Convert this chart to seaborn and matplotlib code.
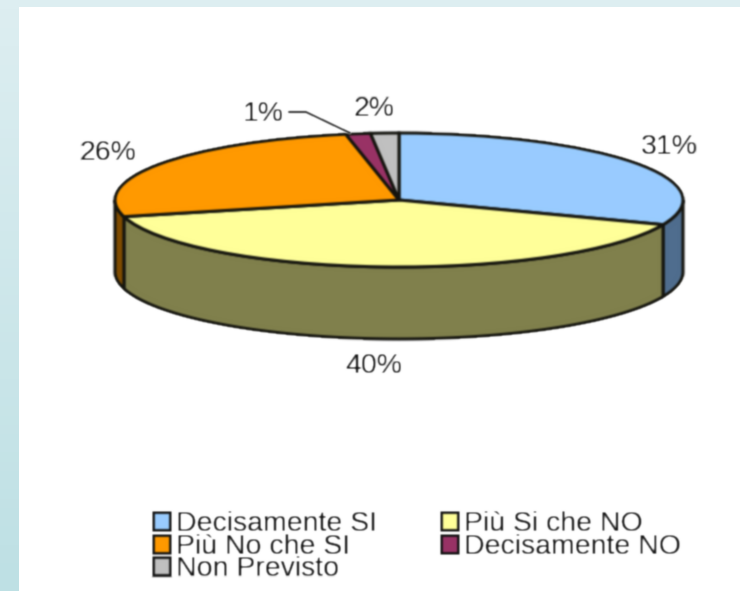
import numpy as np
import seaborn as sns
import matplotlib.pyplot as plt
from matplotlib.patches import Patch

# Dati
categorie = ["Decisamente SI", "Più Si che NO", "Più No che SI", "Decisamente NO", "Non Previsto"]
valori = [31.0, 40.0, 26.0, 1.4, 1.6]
etichette = ["31%", "40%", "26%", "1%", "2%"]
colori = ["#99CCFF", "#FFFF99", "#FF9900", "#993366", "#C0C0C0"]
colori_lato = ["#4F6D8E", "#80804C", "#804C00", "#4C1933", "#606060"]

sns.set_theme(style="white")
plt.rcParams['font.family'] = ['Liberation Sans', 'DejaVu Sans']

LARG, ALT = 740, 591
bordo = "#14140e"
testo = "#0c0c0c"


# L'originale e' una gif ingrandita, quindi un po' sfocata
def sfoca(img, dpi, sigma=0.9, pad=4):
    img = np.pad(img, ((pad, pad), (pad, pad), (0, 0)))
    x = np.arange(-pad, pad + 1)
    k = np.exp(-x ** 2 / (2 * sigma ** 2))
    k = k / k.sum()
    for asse in (0, 1):
        img = np.apply_along_axis(lambda v: np.convolve(v, k, mode='same'), asse, img)
    return img, -pad, -pad


fig = plt.figure(figsize=(LARG / 100, ALT / 100), dpi=100)
fig.patch.set_facecolor("white")

# Sfondo in pixel
sf = fig.add_axes([0, 0, 1, 1])
sf.axis('off')
sfumatura = sns.blend_palette(["#DDEEF1", "#BEE0E4"], n_colors=64, as_cmap=True)
grad = np.linspace(0, 1, 64).reshape(-1, 1)
sf.imshow(grad, cmap=sfumatura, extent=(0, 19, ALT, 0), aspect='auto', vmin=0, vmax=1)
sf.fill_between([19, LARG], 0, 7, color="#DDEEF1", lw=0)
sf.set_xlim(0, LARG)
sf.set_ylim(ALT, 0)

# Torta: asse schiacciato, un'unita in y vale 67 px
cx, cy, rx, ry = 399, 200, 284, 67
ax = fig.add_axes([(cx - rx) / LARG, 1 - (cy + ry) / ALT, 2 * rx / LARG, 2 * ry / ALT])
prof = 72 / ry

# Lato del cilindro: solo la meta davanti si vede
bordi = np.cumsum([0] + valori) / sum(valori) * 360
for i in range(len(valori)):
    a0, a1 = max(bordi[i], 90), min(bordi[i + 1], 270)
    if a1 <= a0:
        continue
    t = np.radians(np.linspace(a0, a1, 100))
    xs, ys = np.sin(t), np.cos(t)
    ax.fill(np.r_[xs, xs[::-1]], np.r_[ys, ys[::-1] - prof], facecolor=colori_lato[i],
            edgecolor=bordo, lw=2.2, clip_on=False, zorder=1)

ax.pie(valori, colors=colori, startangle=90, counterclock=False, radius=1,
       wedgeprops=dict(edgecolor=bordo, linewidth=2.2, zorder=2, clip_on=False))
ax.set_aspect('auto')
ax.set_xlim(-1, 1)
ax.set_ylim(-1, 1)
ax.axis('off')
ax.set_agg_filter(sfoca)

# Testi sopra, sempre in pixel
top = fig.add_axes([0, 0, 1, 1])
top.set_xlim(0, LARG)
top.set_ylim(ALT, 0)
top.axis('off')
top.set_agg_filter(sfoca)

# Etichette
fs = 20.5
pos_et = [(669, 147), (374, 366), (108, 153), (263, 114), (374, 109)]
for e, (x, y) in zip(etichette, pos_et):
    top.text(x, y, e, ha='center', va='center', fontsize=fs, color=testo)
top.plot([289, 306, 350], [112, 112, 133], color="#222222", lw=1.5)

# Legenda
ordine = [0, 2, 4, 1, 3]
maniglie = [Patch(facecolor=colori[i], edgecolor="#111111", lw=2, label=categorie[i]) for i in ordine]
leg = top.legend(handles=maniglie, loc='upper left', bbox_to_anchor=(139 / LARG, 1 - 497 / ALT),
                 bbox_transform=fig.transFigure, ncol=2, frameon=False, fontsize=fs,
                 labelspacing=-0.12, handlelength=0.6, handleheight=0.6, handletextpad=0.2,
                 columnspacing=2.25, borderpad=0, labelcolor=testo)

fig.savefig("out.png", dpi=100)
